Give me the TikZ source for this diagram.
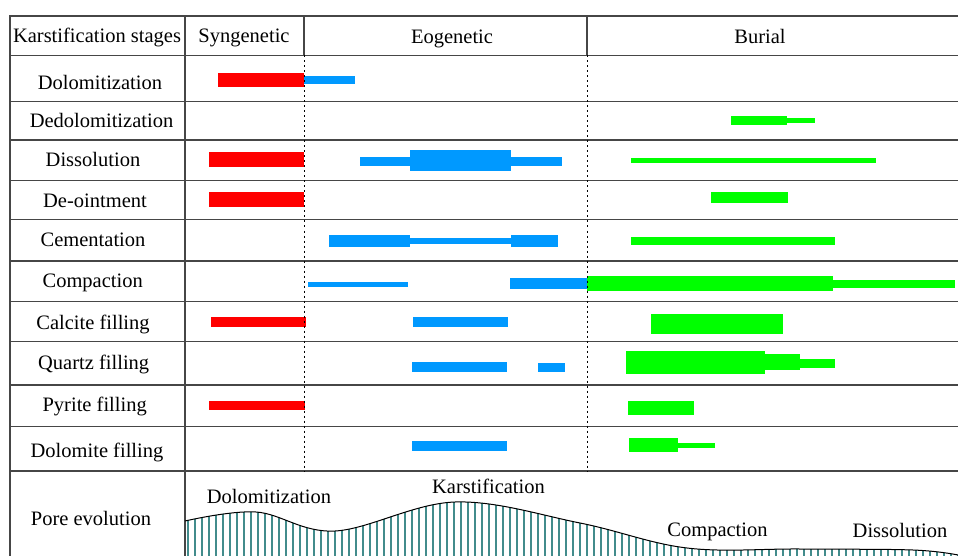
\documentclass[tikz,border=0pt]{standalone}
\usepackage{fontspec}
\setmainfont{Liberation Serif}
\definecolor{synred}{RGB}{255,0,0}
\definecolor{eoblue}{RGB}{0,153,255}
\definecolor{burgreen}{RGB}{0,255,0}
\definecolor{hatchteal}{RGB}{66,140,140}
\definecolor{gridgray}{RGB}{70,70,70}

\begin{document}
\begin{tikzpicture}[x=1pt,y=-1pt,
  grid/.style={gridgray,line width=1.2pt},
  stagediv/.style={black,line width=0.9pt,dash pattern=on 2pt off 3pt},
  lab/.style={font=\fontsize{20.5}{24}\selectfont,anchor=base,inner sep=0pt},
  syn/.style={fill=synred},
  eo/.style={fill=eoblue},
  bur/.style={fill=burgreen}]

\useasboundingbox (0,0) rectangle (958,556);

%draw the table frame and row lines
\draw[grid] (958,16) -- (10,16) -- (10,556);
\draw[grid] (185,16) -- (185,556);
\foreach \y in {55.5,101.5,140,180.5,219.5,261,301.5,341.5,385,426.5,471}
  \draw[grid] (10,\y) -- (958,\y);
\draw[grid] (304,16) -- (304,55.5);
\draw[grid] (587,16) -- (587,55.5);

%header
\node[lab] (stages) at (97,42.7) {Karstification stages};
\node[lab] (syngen) at (244,42.7) {Syngenetic};
\node[lab] (eogen) at (452,43.5) {Eogenetic};
\node[lab] (burial) at (760,44) {Burial};

%row names
\node[lab] (dolo) at (100,89.3) {Dolomitization};
\node[lab] (dedolo) at (101.5,127.3) {Dedolomitization};
\node[lab] (dissol) at (93,166.7) {Dissolution};
\node[lab] (deoint) at (95,207.3) {De-ointment};
\node[lab] (cement) at (93,246.7) {Cementation};
\node[lab] (compac) at (92.7,287.3) {Compaction};
\node[lab] (calcite) at (93,329.3) {Calcite filling};
\node[lab] (quartz) at (93.7,369.3) {Quartz filling};
\node[lab] (pyrite) at (94.7,411.7) {Pyrite filling};
\node[lab] (dolfill) at (97,457.7) {Dolomite filling};
\node[lab] (pore) at (91,525) {Pore evolution};

%syngenetic bars
\fill[syn] (218,73) rectangle (304,87);
\fill[syn] (209,152) rectangle (304,167);
\fill[syn] (209,192) rectangle (304,207);
\fill[syn] (211,317) rectangle (306,327);
\fill[syn] (209,401) rectangle (305,410);

%eogenetic bars
\fill[eo] (304,76) rectangle (355,84);
\fill[eo] (360,157) rectangle (410,166);
\fill[eo] (410,150) rectangle (511,171);
\fill[eo] (511,157) rectangle (562,166);
\fill[eo] (329,235) rectangle (410,247);
\fill[eo] (410,238) rectangle (511,244);
\fill[eo] (511,235) rectangle (558,247);
\fill[eo] (308,282) rectangle (408,287);
\fill[eo] (510,278) rectangle (587,289);
\fill[eo] (413,317) rectangle (508,327);
\fill[eo] (412,362) rectangle (507,372);
\fill[eo] (538,363) rectangle (565,372);
\fill[eo] (412,441) rectangle (507,451);

%burial bars
\fill[bur] (731,116) rectangle (787,125);
\fill[bur] (787,118) rectangle (815,123);
\fill[bur] (631,158) rectangle (876,163);
\fill[bur] (711,192) rectangle (788,203);
\fill[bur] (631,237) rectangle (835,245);
\fill[bur] (587,276) rectangle (833,291);
\fill[bur] (833,280) rectangle (955,288);
\fill[bur] (651,314) rectangle (783,334);
\fill[bur] (626,351) rectangle (765,374);
\fill[bur] (765,354) rectangle (800,370);
\fill[bur] (800,359) rectangle (835,368);
\fill[bur] (628,401) rectangle (694,415);
\fill[bur] (629,438) rectangle (678,452);
\fill[bur] (678,443) rectangle (715,448);

%stage boundaries
\draw[stagediv] (304,55.5) -- (304,471);
\draw[stagediv] (587,55.5) -- (587,471);

%pore evolution curve with hatching below
\begin{scope}
\clip plot[smooth,tension=0.6] coordinates {(185,521) (256,512) (335,531) (455,502) (580,523) (687,548) (800,549) (913,550) (958,555)} -- (958,560) -- (185,560) -- cycle;
\foreach \x in {188,195,...,958}
  \draw[hatchteal,line width=1.2pt] (\x,490) -- (\x,560);
\end{scope}
\draw[line width=1pt] plot[smooth,tension=0.6] coordinates {(185,521) (256,512) (335,531) (455,502) (580,523) (687,548) (800,549) (913,550) (958,555)};

\node[lab] (pdolo) at (269,503.3) {Dolomitization};
\node[lab] (pkarst) at (488.5,493.3) {Karstification};
\node[lab] (pcomp) at (717.5,536) {Compaction};
\node[lab] (pdiss) at (900,537.7) {Dissolution};

\end{tikzpicture}
\end{document}
